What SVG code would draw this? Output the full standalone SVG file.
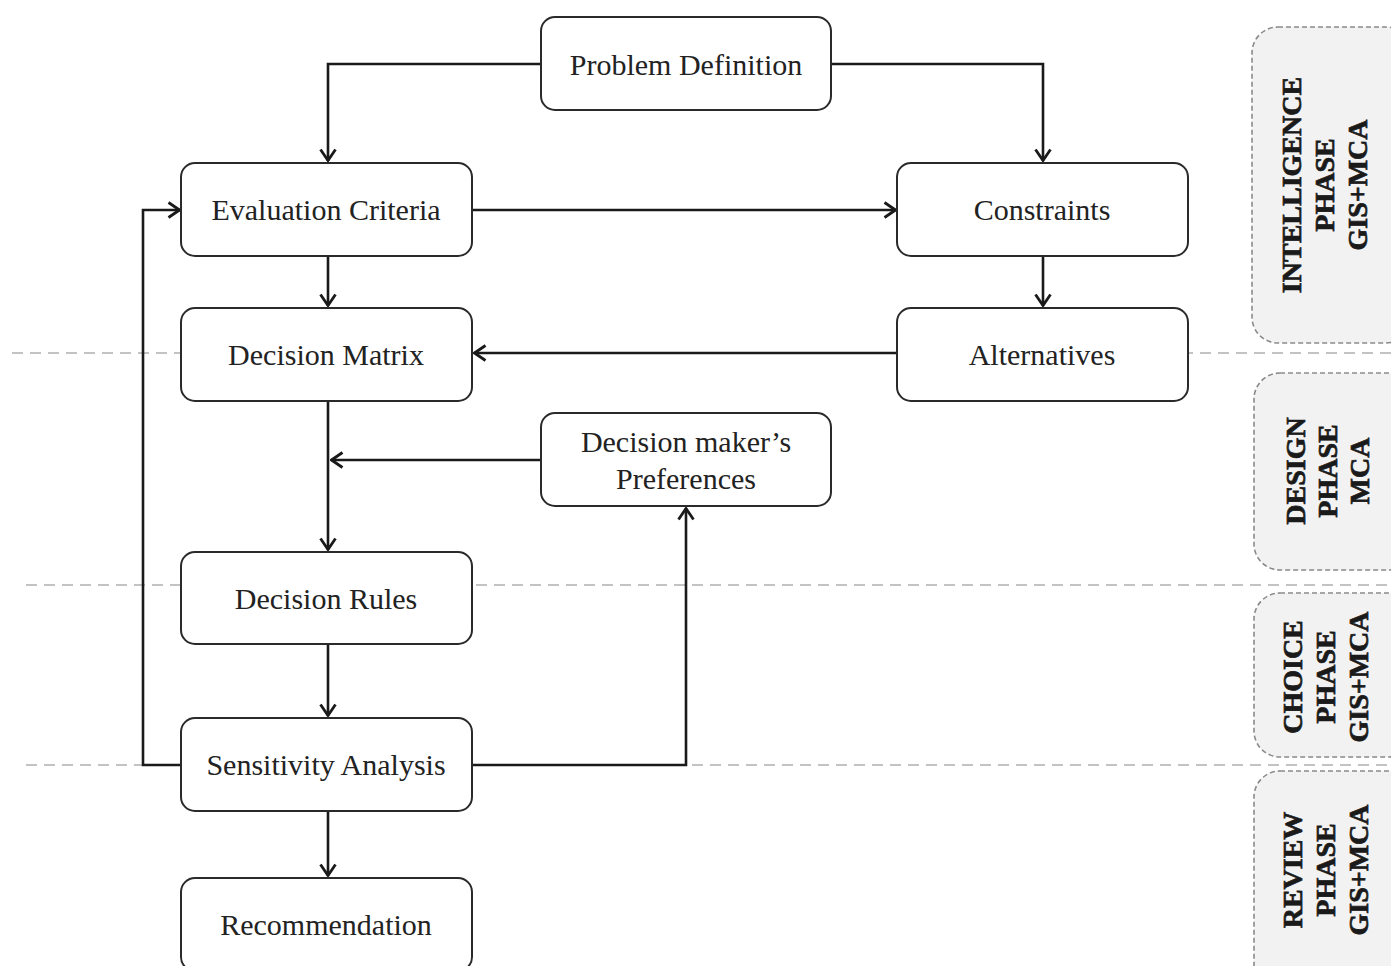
<svg xmlns="http://www.w3.org/2000/svg" width="1391" height="966" viewBox="0 0 1391 966">
<style>
.sep{stroke:#b0b0b0;stroke-width:1.6;stroke-dasharray:11 7;fill:none}
.box{fill:#fff;stroke:#2a2a2a;stroke-width:2}
.lbl{font-family:"Liberation Serif","Times New Roman",serif;font-size:30px;fill:#222;text-anchor:middle}
.con{fill:none;stroke:#1a1a1a;stroke-width:2.6;stroke-linejoin:miter}
.phase{fill:#f2f2f2;stroke:#8a8a8a;stroke-width:1.6;stroke-dasharray:5 3}
.ptxt{font-family:"Liberation Serif","Times New Roman",serif;font-size:28px;font-weight:700;fill:#1a1a1a;stroke:#1a1a1a;stroke-width:0.7;text-anchor:middle}
</style>
<defs>
<marker id="arr" viewBox="0 0 14 18" refX="13" refY="9" markerWidth="14" markerHeight="18" markerUnits="userSpaceOnUse" orient="auto">
<path d="M1.5,1.5 L12.5,9 L1.5,16.5" fill="none" stroke="#1a1a1a" stroke-width="2.8"/>
</marker>
</defs>
<rect width="1391" height="966" fill="#fff"/>
<g id="separators">
<line class="sep" x1="12" y1="353" x2="1391" y2="353"/>
<line class="sep" x1="26" y1="585" x2="1391" y2="585"/>
<line class="sep" x1="26" y1="765" x2="1391" y2="765"/>
</g>
<g id="phases">
<g id="phase-intelligence">
<rect class="phase" x="1252" y="27" width="160" height="316" rx="26"/>
<text class="ptxt" transform="translate(1301,185) rotate(-90)">INTELLIGENCE</text>
<text class="ptxt" transform="translate(1334,185) rotate(-90)">PHASE</text>
<text class="ptxt" transform="translate(1367,185) rotate(-90)">GIS+MCA</text>
</g>
<g id="phase-design">
<rect class="phase" x="1254" y="373" width="160" height="197" rx="26"/>
<text class="ptxt" transform="translate(1305,471) rotate(-90)">DESIGN</text>
<text class="ptxt" transform="translate(1337,471) rotate(-90)">PHASE</text>
<text class="ptxt" transform="translate(1369,471) rotate(-90)">MCA</text>
</g>
<g id="phase-choice">
<rect class="phase" x="1254" y="593" width="160" height="164" rx="26"/>
<text class="ptxt" transform="translate(1302,677) rotate(-90)">CHOICE</text>
<text class="ptxt" transform="translate(1335,677) rotate(-90)">PHASE</text>
<text class="ptxt" transform="translate(1368,677) rotate(-90)">GIS+MCA</text>
</g>
<g id="phase-review">
<rect class="phase" x="1254" y="771" width="160" height="220" rx="26"/>
<text class="ptxt" transform="translate(1302,870) rotate(-90)">REVIEW</text>
<text class="ptxt" transform="translate(1335,870) rotate(-90)">PHASE</text>
<text class="ptxt" transform="translate(1368,870) rotate(-90)">GIS+MCA</text>
</g>
</g>
<g id="connectors">
<path class="con" d="M541,64 H328 V161" marker-end="url(#arr)"/>
<path class="con" d="M831,64 H1043 V161" marker-end="url(#arr)"/>
<path class="con" d="M472,210 H896" marker-end="url(#arr)"/>
<path class="con" d="M328,256 V306" marker-end="url(#arr)"/>
<path class="con" d="M1043,256 V306" marker-end="url(#arr)"/>
<path class="con" d="M897,353 H474" marker-end="url(#arr)"/>
<path class="con" d="M328,401 V550" marker-end="url(#arr)"/>
<path class="con" d="M541,460 H331" marker-end="url(#arr)"/>
<path class="con" d="M328,644 V716" marker-end="url(#arr)"/>
<path class="con" d="M328,811 V876" marker-end="url(#arr)"/>
<path class="con" d="M181,765 H143 V210 H180" marker-end="url(#arr)"/>
<path class="con" d="M472,765 H686 V508" marker-end="url(#arr)"/>
</g>
<g id="node-problem-definition">
<rect class="box" x="541" y="17" width="290" height="93" rx="14"/>
<text class="lbl" x="686" y="75">Problem Definition</text>
</g>
<g id="node-evaluation-criteria">
<rect class="box" x="181" y="163" width="291" height="93" rx="14"/>
<text class="lbl" x="326" y="220">Evaluation Criteria</text>
</g>
<g id="node-constraints">
<rect class="box" x="897" y="163" width="291" height="93" rx="14"/>
<text class="lbl" x="1042" y="220">Constraints</text>
</g>
<g id="node-decision-matrix">
<rect class="box" x="181" y="308" width="291" height="93" rx="14"/>
<text class="lbl" x="326" y="365">Decision Matrix</text>
</g>
<g id="node-alternatives">
<rect class="box" x="897" y="308" width="291" height="93" rx="14"/>
<text class="lbl" x="1042" y="365">Alternatives</text>
</g>
<g id="node-preferences">
<rect class="box" x="541" y="413" width="290" height="93" rx="14"/>
<text class="lbl" x="686" y="452">Decision maker’s</text>
<text class="lbl" x="686" y="489">Preferences</text>
</g>
<g id="node-decision-rules">
<rect class="box" x="181" y="552" width="291" height="92" rx="14"/>
<text class="lbl" x="326" y="609">Decision Rules</text>
</g>
<g id="node-sensitivity-analysis">
<rect class="box" x="181" y="718" width="291" height="93" rx="14"/>
<text class="lbl" x="326" y="775">Sensitivity Analysis</text>
</g>
<g id="node-recommendation">
<rect class="box" x="181" y="878" width="291" height="93" rx="14"/>
<text class="lbl" x="326" y="935">Recommendation</text>
</g>
</svg>
